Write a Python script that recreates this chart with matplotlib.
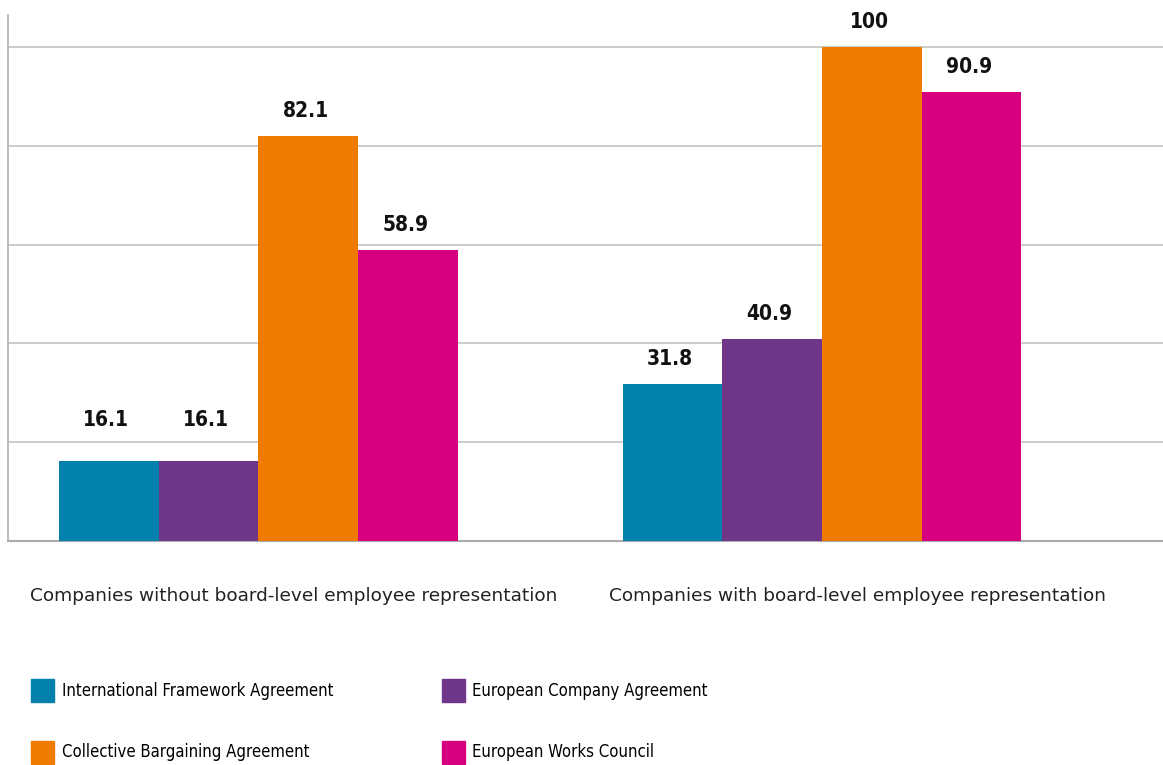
import numpy as np
import matplotlib
matplotlib.use("Agg")
import matplotlib.pyplot as plt
from matplotlib.patches import Patch

# data
groups = ["Companies without board-level employee representation",
          "Companies with board-level employee representation"]
series = ["International Framework Agreement", "European Company Agreement",
          "Collective Bargaining Agreement", "European Works Council"]
without_rep = [16.1, 16.1, 82.1, 58.9]
with_rep = [31.8, 40.9, 100, 90.9]
colors = ["#0181AB", "#70368A", "#EF7B00", "#D7007E"]

values = np.array([without_rep, with_rep])

fig = plt.figure(figsize=(11.63, 7.65), dpi=100)
ax = fig.add_axes([8 / 1163, 1 - 541 / 765, 1155 / 1163, 526 / 765])

w = 0.1768
x = np.arange(len(groups))
for i, name in enumerate(series):
    pos = x + (i - 1.5) * w
    ax.bar(pos, values[:, i], width=w, color=colors[i], zorder=3, linewidth=0)
    for px, v in zip(pos, values[:, i]):
        # put label above bar, but keep it clear of gridlines
        y = v + 3.0
        for g in [20, 40, 60, 80]:
            if y < g < y + 3.4:
                y = g + 2.45
        ax.text(px - 0.005, y, f"{v:g}", ha="center", va="bottom", fontsize=15,
                fontweight="bold", family="DejaVu Sans", stretch="condensed",
                color="#111111")

ax.set_xlim(-0.4445, 1.605)
ax.set_ylim(0, 106.5)
ax.set_yticks([20, 40, 60, 80, 100])
ax.yaxis.grid(True, color="#c8c8c8", linewidth=1.3, zorder=0)
ax.tick_params(left=False, bottom=False, labelleft=False, labelbottom=False)
for s in ["top", "right"]:
    ax.spines[s].set_visible(False)
ax.spines["left"].set_color("#b0b0b0")
ax.spines["bottom"].set_color("#aaaaaa")
ax.spines["left"].set_linewidth(1.2)
ax.spines["bottom"].set_linewidth(1.5)

# category labels under the groups
for xi, label in zip(x, groups):
    ax.text(xi + 0.0625, -11.2, label, ha="center", va="center", fontsize=13.3,
            family="DejaVu Sans", color="#222222")

# legend, row by row
handles = [Patch(color=c, label=s) for c, s in zip(colors, series)]
order = [0, 2, 1, 3]
fig.legend([handles[i] for i in order], [series[i] for i in order],
           ncol=2, loc="upper left", bbox_to_anchor=(31 / 1163, 1 - 679 / 765),
           frameon=False, prop={"family": "DejaVu Sans", "stretch": "condensed", "size": 12},
           handlelength=1.38, handleheight=1.75, handletextpad=0.45,
           columnspacing=6.54, labelspacing=2.31, borderpad=0, borderaxespad=0)

fig.savefig("out.png", dpi=100)
